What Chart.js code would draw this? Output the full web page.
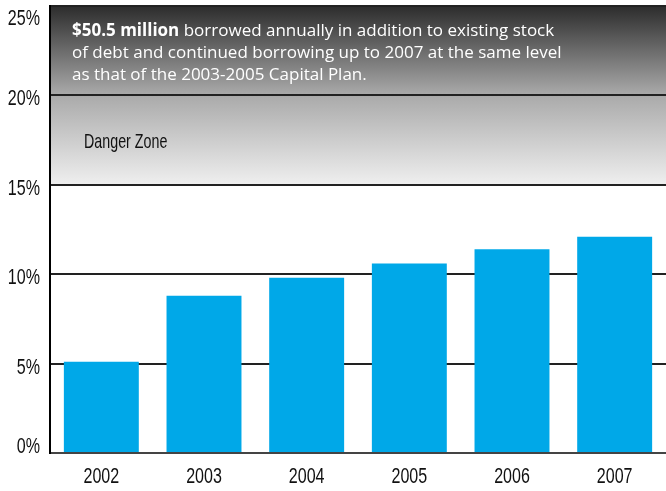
<!DOCTYPE html>
<html>
<head>
<meta charset="utf-8">
<script src="https://cdn.jsdelivr.net/npm/chart.js@4"></script>
<style>
  html, body { margin: 0; padding: 0; background: #fff; }
  #wrap { width: 666px; height: 491px; }
</style>
</head>
<body>
<div id="wrap"><canvas id="c" width="666" height="491"></canvas></div>
<script>
// Debt service ratio by year
const years = ['2002', '2003', '2004', '2005', '2006', '2007'];
const debtRatio = [5.1, 8.8, 9.8, 10.6, 11.4, 12.1];
const yTicks = [0, 5, 10, 15, 20, 25];
const yTickLabels = ['0%', '5%', '10%', '15%', '20%', '25%'];

// Shaded bands: [from, to]
const dangerBand = [15, 20];
const upperBand = [20, 25];

const noteBold = '$50.5 million';
const noteLines = [
  ' borrowed annually in addition to existing stock',
  'of debt and continued borrowing up to 2007 at the same level',
  'as that of the 2003-2005 Capital Plan.'
];
const zoneLabel = 'Danger Zone';

const labelFont = '"Liberation Sans", Arial, sans-serif';
const noteFont = '"Open Sans", "DejaVu Sans", sans-serif';

// draws text squeezed horizontally to mimic a condensed face
function narrowText(ctx, text, x, y, sx, align) {
  ctx.save();
  ctx.translate(x, y);
  ctx.scale(sx, 1);
  ctx.textAlign = align;
  ctx.fillText(text, 0, 0);
  ctx.restore();
}

const bandsPlugin = {
  id: 'bands',
  beforeDraw(chart) {
    const { ctx, chartArea: a, scales: { y } } = chart;
    const y25 = y.getPixelForValue(upperBand[1]);
    const y20 = y.getPixelForValue(upperBand[0]);
    const y15 = y.getPixelForValue(dangerBand[0]);
    ctx.save();
    let g = ctx.createLinearGradient(0, y25, 0, y20);
    g.addColorStop(0, '#2c2c2c');
    g.addColorStop(1, '#ababab');
    ctx.fillStyle = g;
    ctx.fillRect(a.left, y25, a.right - a.left, y20 - y25);
    g = ctx.createLinearGradient(0, y20, 0, y15);
    g.addColorStop(0, '#aaaaaa');
    g.addColorStop(1, '#efefef');
    ctx.fillStyle = g;
    ctx.fillRect(a.left, y20, a.right - a.left, y15 - y20);
    ctx.restore();
  },
  afterDraw(chart) {
    const { ctx, chartArea: a, scales: { x, y } } = chart;
    ctx.save();
    ctx.fillStyle = '#111';
    ctx.textBaseline = 'alphabetic';
    ctx.font = '22px ' + labelFont;
    // y tick labels
    yTicks.forEach((v, i) => {
      let py = y.getPixelForValue(v) + 10;
      py = Math.min(Math.max(py, 25), 453);
      narrowText(ctx, yTickLabels[i], 40, py, 0.73, 'right');
    });
    // x tick labels
    years.forEach((lbl, i) => {
      narrowText(ctx, lbl, x.getPixelForValue(i), 483, 0.73, 'center');
    });
    // zone label
    ctx.font = '21px ' + labelFont;
    narrowText(ctx, zoneLabel, a.left + 34, 148, 0.68, 'left');
    // note text
    ctx.textAlign = 'left';
    ctx.fillStyle = '#ffffff';
    const x0 = a.left + 22;
    ctx.font = 'bold 17px ' + noteFont;
    ctx.fillText(noteBold, x0, 36);
    const w = ctx.measureText(noteBold).width;
    ctx.font = '17px ' + noteFont;
    ctx.fillText(noteLines[0], x0 + w, 36);
    ctx.fillText(noteLines[1], x0, 58);
    ctx.fillText(noteLines[2], x0, 80);
    ctx.restore();
  }
};

new Chart(document.getElementById('c'), {
  type: 'bar',
  data: {
    labels: years,
    datasets: [{
      data: debtRatio,
      backgroundColor: '#00a8e8',
      borderWidth: 0,
      categoryPercentage: 1,
      barPercentage: 0.73
    }]
  },
  options: {
    responsive: false,
    animation: false,
    devicePixelRatio: 1,
    layout: { padding: { top: 6, right: 0, left: 0, bottom: 0 } },
    plugins: { legend: { display: false }, tooltip: { enabled: false } },
    scales: {
      x: {
        grid: { display: false, drawTicks: false },
        border: { display: true, color: '#444', width: 2 },
        ticks: { display: false },
        afterFit: s => { s.height = 38; }
      },
      y: {
        min: 0, max: 25,
        ticks: { stepSize: 5, display: false },
        grid: { color: '#222', lineWidth: 2, drawTicks: false },
        border: { display: true, color: '#000', width: 2 },
        afterFit: s => { s.width = 50; }
      }
    }
  },
  plugins: [bandsPlugin]
});
</script>
</body>
</html>
